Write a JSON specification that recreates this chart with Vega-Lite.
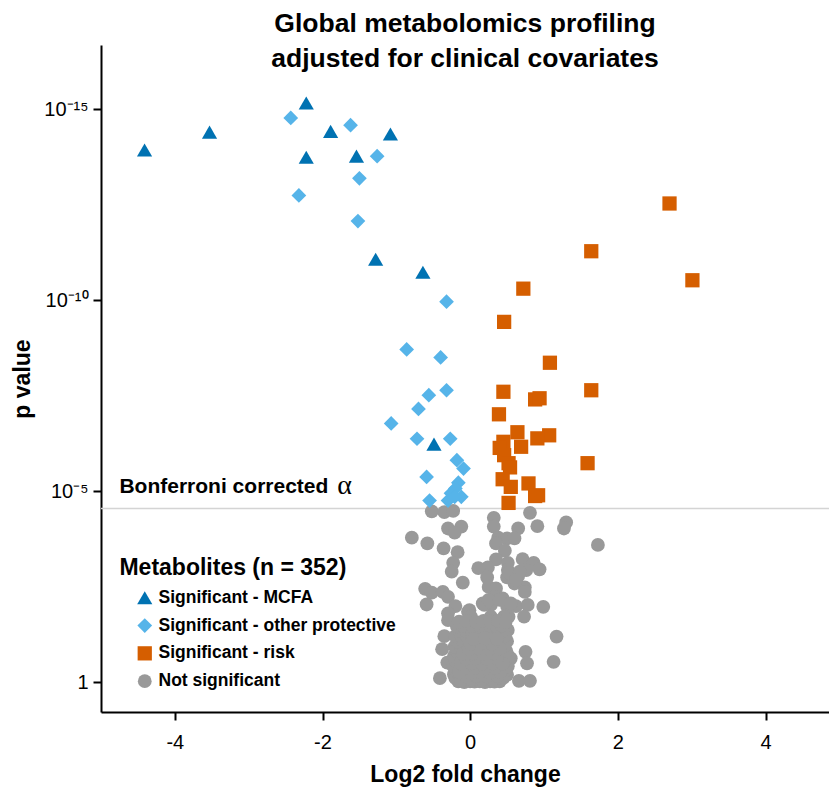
{
  "$schema": "https://vega.github.io/schema/vega-lite/v6.json",
  "width": 728,
  "height": 667,
  "autosize": {"type": "none"},
  "padding": {"left": 101, "top": 45, "right": 0, "bottom": 77},
  "background": "white",
  "config": {
    "view": {"stroke": null},
    "font": "Liberation Sans",
    "axis": {"grid": false, "domainColor": "black", "domainWidth": 2, "tickColor": "black", "tickWidth": 2, "tickSize": 8, "labelColor": "black", "labelFont": "Liberation Sans", "labelFontSize": 20, "titleFont": "Liberation Sans", "titleFontSize": 23, "titleFontWeight": "bold", "titleColor": "black"}
  },
  "title": {
    "text": ["Global metabolomics profiling", "adjusted for clinical covariates"],
    "font": "Liberation Sans",
    "fontSize": 26.5,
    "fontWeight": "bold",
    "color": "black",
    "anchor": "middle",
    "lineHeight": 35,
    "offset": -27
  },
  "datasets": {
    "pts": [
      {"x":-0.52,"y":4.47,"g":"D"},{"x":-0.35,"y":4.45,"g":"D"},{"x":-0.23,"y":4.48,"g":"D"},{"x":0.32,"y":4.3,"g":"D"},{"x":0.81,"y":4.43,"g":"D"},
      {"x":1.3,"y":4.18,"g":"D"},{"x":1.27,"y":4.02,"g":"D"},{"x":0.91,"y":4.08,"g":"D"},{"x":0.65,"y":4.02,"g":"D"},{"x":0.32,"y":4.07,"g":"D"},
      {"x":-0.79,"y":3.78,"g":"D"},{"x":-0.3,"y":4.02,"g":"D"},{"x":-0.12,"y":4.07,"g":"D"},{"x":-0.21,"y":3.91,"g":"D"},{"x":-0.58,"y":3.63,"g":"D"},
      {"x":-0.36,"y":3.5,"g":"D"},{"x":-0.17,"y":3.4,"g":"D"},{"x":0.38,"y":3.78,"g":"D"},{"x":0.5,"y":3.76,"g":"D"},{"x":0.6,"y":3.76,"g":"D"},
      {"x":0.35,"y":3.63,"g":"D"},{"x":0.47,"y":3.44,"g":"D"},{"x":1.73,"y":3.59,"g":"D"},{"x":0.71,"y":3.22,"g":"D"},{"x":0.86,"y":3.12,"g":"D"},
      {"x":0.94,"y":2.95,"g":"D"},{"x":0.35,"y":3.21,"g":"D"},{"x":0.24,"y":3.0,"g":"D"},{"x":0.11,"y":2.98,"g":"D"},{"x":0.51,"y":3.12,"g":"D"},
      {"x":0.51,"y":2.93,"g":"D"},{"x":0.76,"y":2.93,"g":"D"},{"x":0.65,"y":2.77,"g":"D"},{"x":-0.23,"y":3.12,"g":"D"},{"x":-0.25,"y":2.89,"g":"D"},
      {"x":0.23,"y":2.74,"g":"D"},{"x":0.5,"y":2.74,"g":"D"},{"x":0.6,"y":2.58,"g":"D"},{"x":-0.1,"y":2.6,"g":"D"},{"x":0.25,"y":2.49,"g":"D"},
      {"x":0.35,"y":2.45,"g":"D"},{"x":0.74,"y":2.48,"g":"D"},{"x":0.74,"y":2.36,"g":"D"},{"x":-0.61,"y":2.44,"g":"D"},{"x":-0.52,"y":2.34,"g":"D"},
      {"x":-0.37,"y":2.36,"g":"D"},{"x":-0.3,"y":2.23,"g":"D"},{"x":-0.59,"y":2.03,"g":"D"},{"x":0.33,"y":2.23,"g":"D"},{"x":0.44,"y":2.19,"g":"D"},
      {"x":0.28,"y":2.02,"g":"D"},{"x":0.19,"y":2.02,"g":"D"},{"x":0.5,"y":1.99,"g":"D"},{"x":0.62,"y":1.99,"g":"D"},{"x":0.78,"y":2.02,"g":"D"},
      {"x":0.99,"y":1.97,"g":"D"},{"x":-0.2,"y":1.99,"g":"D"},{"x":-0.01,"y":1.88,"g":"D"},{"x":-0.3,"y":1.8,"g":"D"},{"x":0.73,"y":1.71,"g":"D"},
      {"x":0.52,"y":1.71,"g":"D"},{"x":-0.35,"y":1.2,"g":"D"},{"x":-0.38,"y":0.86,"g":"D"},{"x":-0.31,"y":0.51,"g":"D"},{"x":-0.41,"y":0.1,"g":"D"},
      {"x":1.17,"y":1.19,"g":"D"},{"x":0.75,"y":0.79,"g":"D"},{"x":0.77,"y":0.49,"g":"D"},{"x":1.13,"y":0.53,"g":"D"},{"x":0.66,"y":0.03,"g":"D"},
      {"x":0.81,"y":0.03,"g":"D"},{"x":-0.03,"y":1.84,"g":"D"},{"x":0.01,"y":1.71,"g":"D"},{"x":0.28,"y":1.71,"g":"D"},{"x":0.46,"y":1.71,"g":"D"},
      {"x":0.22,"y":1.54,"g":"D"},{"x":0.42,"y":1.54,"g":"D"},{"x":0.51,"y":1.36,"g":"D"},{"x":-0.14,"y":1.32,"g":"D"},{"x":0.55,"y":0.62,"g":"D"},
      {"x":-0.3,"y":1.62,"g":"D"},{"x":0.17,"y":2.06,"g":"D"},{"x":0.25,"y":2.15,"g":"D"},{"x":0.4,"y":2.15,"g":"D"},{"x":0.55,"y":2.06,"g":"D"},
      {"x":0.53,"y":2.85,"g":"D"},{"x":0.67,"y":2.89,"g":"D"},{"x":0.62,"y":2.67,"g":"D"},
      {"x":-0.16,"y":0.02,"g":"D"},{"x":-0.08,"y":0.0,"g":"D"},{"x":0.0,"y":0.02,"g":"D"},{"x":0.06,"y":0.01,"g":"D"},{"x":0.13,"y":0.02,"g":"D"},
      {"x":0.2,"y":0.0,"g":"D"},{"x":0.27,"y":0.02,"g":"D"},{"x":0.33,"y":0.01,"g":"D"},{"x":0.4,"y":0.02,"g":"D"},
      {"x":-0.2,"y":0.1,"g":"D"},{"x":-0.12,"y":0.11,"g":"D"},{"x":-0.04,"y":0.09,"g":"D"},{"x":0.03,"y":0.12,"g":"D"},{"x":0.1,"y":0.1,"g":"D"},
      {"x":0.17,"y":0.11,"g":"D"},{"x":0.24,"y":0.09,"g":"D"},{"x":0.31,"y":0.12,"g":"D"},{"x":0.38,"y":0.1,"g":"D"},{"x":0.45,"y":0.11,"g":"D"},
      {"x":-0.22,"y":0.2,"g":"D"},{"x":-0.15,"y":0.21,"g":"D"},{"x":-0.07,"y":0.19,"g":"D"},{"x":0.01,"y":0.22,"g":"D"},{"x":0.08,"y":0.2,"g":"D"},
      {"x":0.15,"y":0.21,"g":"D"},{"x":0.22,"y":0.19,"g":"D"},{"x":0.29,"y":0.22,"g":"D"},{"x":0.36,"y":0.2,"g":"D"},{"x":0.43,"y":0.21,"g":"D"},{"x":0.5,"y":0.19,"g":"D"},
      {"x":-0.19,"y":0.3,"g":"D"},{"x":-0.11,"y":0.31,"g":"D"},{"x":-0.03,"y":0.29,"g":"D"},{"x":0.05,"y":0.32,"g":"D"},{"x":0.12,"y":0.3,"g":"D"},
      {"x":0.19,"y":0.31,"g":"D"},{"x":0.26,"y":0.29,"g":"D"},{"x":0.33,"y":0.32,"g":"D"},{"x":0.41,"y":0.3,"g":"D"},{"x":0.48,"y":0.31,"g":"D"},
      {"x":-0.23,"y":0.42,"g":"D"},{"x":-0.16,"y":0.43,"g":"D"},{"x":-0.08,"y":0.41,"g":"D"},{"x":0.0,"y":0.44,"g":"D"},{"x":0.07,"y":0.42,"g":"D"},
      {"x":0.14,"y":0.43,"g":"D"},{"x":0.21,"y":0.41,"g":"D"},{"x":0.28,"y":0.44,"g":"D"},{"x":0.35,"y":0.42,"g":"D"},{"x":0.43,"y":0.43,"g":"D"},{"x":0.51,"y":0.41,"g":"D"},
      {"x":-0.2,"y":0.55,"g":"D"},{"x":-0.12,"y":0.56,"g":"D"},{"x":-0.04,"y":0.54,"g":"D"},{"x":0.04,"y":0.57,"g":"D"},{"x":0.11,"y":0.55,"g":"D"},
      {"x":0.18,"y":0.56,"g":"D"},{"x":0.25,"y":0.54,"g":"D"},{"x":0.32,"y":0.57,"g":"D"},{"x":0.4,"y":0.55,"g":"D"},{"x":0.47,"y":0.56,"g":"D"},
      {"x":-0.22,"y":0.68,"g":"D"},{"x":-0.14,"y":0.69,"g":"D"},{"x":-0.06,"y":0.67,"g":"D"},{"x":0.02,"y":0.7,"g":"D"},{"x":0.09,"y":0.68,"g":"D"},
      {"x":0.16,"y":0.69,"g":"D"},{"x":0.23,"y":0.67,"g":"D"},{"x":0.3,"y":0.7,"g":"D"},{"x":0.37,"y":0.68,"g":"D"},{"x":0.45,"y":0.69,"g":"D"},{"x":0.52,"y":0.67,"g":"D"},
      {"x":-0.18,"y":0.8,"g":"D"},{"x":-0.1,"y":0.81,"g":"D"},{"x":-0.02,"y":0.79,"g":"D"},{"x":0.06,"y":0.82,"g":"D"},{"x":0.13,"y":0.8,"g":"D"},
      {"x":0.2,"y":0.81,"g":"D"},{"x":0.27,"y":0.79,"g":"D"},{"x":0.34,"y":0.82,"g":"D"},{"x":0.42,"y":0.8,"g":"D"},{"x":0.49,"y":0.81,"g":"D"},
      {"x":-0.21,"y":0.93,"g":"D"},{"x":-0.13,"y":0.94,"g":"D"},{"x":-0.05,"y":0.92,"g":"D"},{"x":0.03,"y":0.95,"g":"D"},{"x":0.1,"y":0.93,"g":"D"},
      {"x":0.17,"y":0.94,"g":"D"},{"x":0.24,"y":0.92,"g":"D"},{"x":0.31,"y":0.95,"g":"D"},{"x":0.38,"y":0.93,"g":"D"},{"x":0.46,"y":0.94,"g":"D"},
      {"x":-0.17,"y":1.06,"g":"D"},{"x":-0.09,"y":1.07,"g":"D"},{"x":-0.01,"y":1.05,"g":"D"},{"x":0.07,"y":1.08,"g":"D"},{"x":0.14,"y":1.06,"g":"D"},
      {"x":0.21,"y":1.07,"g":"D"},{"x":0.28,"y":1.05,"g":"D"},{"x":0.35,"y":1.08,"g":"D"},{"x":0.43,"y":1.06,"g":"D"},{"x":0.5,"y":1.07,"g":"D"},
      {"x":-0.2,"y":1.2,"g":"D"},{"x":-0.12,"y":1.21,"g":"D"},{"x":-0.04,"y":1.19,"g":"D"},{"x":0.04,"y":1.22,"g":"D"},{"x":0.11,"y":1.2,"g":"D"},
      {"x":0.18,"y":1.21,"g":"D"},{"x":0.25,"y":1.19,"g":"D"},{"x":0.33,"y":1.22,"g":"D"},{"x":0.4,"y":1.2,"g":"D"},{"x":0.47,"y":1.21,"g":"D"},
      {"x":-0.14,"y":1.33,"g":"D"},{"x":-0.06,"y":1.34,"g":"D"},{"x":0.02,"y":1.32,"g":"D"},{"x":0.09,"y":1.35,"g":"D"},{"x":0.16,"y":1.33,"g":"D"},
      {"x":0.23,"y":1.34,"g":"D"},{"x":0.3,"y":1.32,"g":"D"},{"x":0.37,"y":1.35,"g":"D"},{"x":0.44,"y":1.33,"g":"D"},
      {"x":-0.18,"y":1.46,"g":"D"},{"x":-0.1,"y":1.47,"g":"D"},{"x":0.03,"y":1.45,"g":"D"},{"x":0.12,"y":1.48,"g":"D"},{"x":0.2,"y":1.46,"g":"D"},
      {"x":0.28,"y":1.47,"g":"D"},{"x":0.36,"y":1.45,"g":"D"},{"x":0.43,"y":1.48,"g":"D"},
      {"x":-0.15,"y":1.58,"g":"D"},{"x":-0.05,"y":1.6,"g":"D"},{"x":0.08,"y":1.57,"g":"D"},{"x":0.18,"y":1.6,"g":"D"},{"x":0.27,"y":1.58,"g":"D"},
      {"x":0.38,"y":1.6,"g":"D"},{"x":0.48,"y":1.57,"g":"D"},
      {"x":-0.12,"y":0.05,"g":"D"},{"x":0.02,"y":0.06,"g":"D"},{"x":0.16,"y":0.05,"g":"D"},{"x":0.3,"y":0.06,"g":"D"},{"x":-0.05,"y":0.15,"g":"D"},
      {"x":0.09,"y":0.16,"g":"D"},{"x":0.23,"y":0.15,"g":"D"},{"x":0.37,"y":0.16,"g":"D"},{"x":-0.15,"y":0.26,"g":"D"},{"x":-0.01,"y":0.25,"g":"D"},
      {"x":0.13,"y":0.26,"g":"D"},{"x":0.27,"y":0.25,"g":"D"},{"x":0.41,"y":0.26,"g":"D"},{"x":-0.08,"y":0.36,"g":"D"},{"x":0.06,"y":0.37,"g":"D"},
      {"x":0.2,"y":0.36,"g":"D"},{"x":0.34,"y":0.37,"g":"D"},{"x":-0.12,"y":0.48,"g":"D"},{"x":0.02,"y":0.49,"g":"D"},{"x":0.16,"y":0.48,"g":"D"},
      {"x":0.3,"y":0.49,"g":"D"},{"x":0.44,"y":0.48,"g":"D"},{"x":-0.06,"y":0.61,"g":"D"},{"x":0.08,"y":0.62,"g":"D"},{"x":0.22,"y":0.61,"g":"D"},
      {"x":0.36,"y":0.62,"g":"D"},{"x":-0.1,"y":0.74,"g":"D"},{"x":0.04,"y":0.75,"g":"D"},{"x":0.18,"y":0.74,"g":"D"},{"x":0.32,"y":0.75,"g":"D"},
      {"x":-0.02,"y":0.87,"g":"D"},{"x":0.12,"y":0.88,"g":"D"},{"x":0.26,"y":0.87,"g":"D"},{"x":0.4,"y":0.88,"g":"D"},{"x":0.0,"y":1.0,"g":"D"},
      {"x":0.15,"y":1.01,"g":"D"},{"x":0.3,"y":1.0,"g":"D"},{"x":0.05,"y":1.13,"g":"D"},{"x":0.2,"y":1.14,"g":"D"},{"x":0.36,"y":1.13,"g":"D"},

      {"x":-2.43,"y":14.77,"g":"B"},{"x":-1.62,"y":14.58,"g":"B"},{"x":-1.26,"y":13.77,"g":"B"},{"x":-1.5,"y":13.19,"g":"B"},{"x":-2.32,"y":12.74,"g":"B"},
      {"x":-1.52,"y":12.07,"g":"B"},{"x":-0.32,"y":9.96,"g":"B"},{"x":-0.86,"y":8.71,"g":"B"},{"x":-0.4,"y":8.5,"g":"B"},{"x":-0.32,"y":7.64,"g":"B"},
      {"x":-0.56,"y":7.51,"g":"B"},{"x":-0.7,"y":7.15,"g":"B"},{"x":-1.07,"y":6.77,"g":"B"},{"x":-0.72,"y":6.37,"g":"B"},{"x":-0.27,"y":6.37,"g":"B"},
      {"x":-0.18,"y":5.81,"g":"B"},{"x":-0.09,"y":5.59,"g":"B"},{"x":-0.59,"y":5.37,"g":"B"},{"x":-0.16,"y":5.22,"g":"B"},{"x":-0.2,"y":5.07,"g":"B"},
      {"x":-0.26,"y":4.94,"g":"B"},{"x":-0.12,"y":4.85,"g":"B"},{"x":-0.55,"y":4.75,"g":"B"},{"x":-0.3,"y":4.75,"g":"B"},{"x":-0.21,"y":4.85,"g":"B"},

      {"x":2.7,"y":12.53,"g":"C"},{"x":1.64,"y":11.28,"g":"C"},{"x":3.01,"y":10.52,"g":"C"},{"x":0.72,"y":10.3,"g":"C"},{"x":0.46,"y":9.43,"g":"C"},
      {"x":1.08,"y":8.36,"g":"C"},{"x":0.45,"y":7.6,"g":"C"},{"x":1.64,"y":7.64,"g":"C"},{"x":0.88,"y":7.4,"g":"C"},{"x":0.94,"y":7.43,"g":"C"},
      {"x":0.39,"y":7.01,"g":"C"},{"x":0.64,"y":6.54,"g":"C"},{"x":1.07,"y":6.46,"g":"C"},{"x":0.91,"y":6.38,"g":"C"},{"x":0.45,"y":6.29,"g":"C"},
      {"x":0.4,"y":6.13,"g":"C"},{"x":0.69,"y":6.16,"g":"C"},{"x":0.46,"y":5.94,"g":"C"},{"x":0.52,"y":5.73,"g":"C"},{"x":0.54,"y":5.62,"g":"C"},
      {"x":1.59,"y":5.73,"g":"C"},{"x":0.44,"y":5.31,"g":"C"},{"x":0.55,"y":5.11,"g":"C"},{"x":0.79,"y":5.2,"g":"C"},{"x":0.88,"y":4.87,"g":"C"},
      {"x":0.92,"y":4.89,"g":"C"},{"x":0.52,"y":4.69,"g":"C"},

      {"x":-4.41,"y":13.93,"g":"A"},{"x":-3.53,"y":14.4,"g":"A"},{"x":-2.22,"y":15.16,"g":"A"},{"x":-1.89,"y":14.42,"g":"A"},{"x":-1.08,"y":14.35,"g":"A"},
      {"x":-2.22,"y":13.74,"g":"A"},{"x":-1.54,"y":13.77,"g":"A"},{"x":-1.28,"y":11.07,"g":"A"},{"x":-0.64,"y":10.73,"g":"A"},{"x":-0.49,"y":6.23,"g":"A"}
    ]
  },
  "layer": [
    {
      "data": {"values": [{}]},
      "mark": {"type": "rule", "color": "#d4d4d4", "strokeWidth": 1.5},
      "encoding": {"y": {"datum": 4.546, "type": "quantitative"}}
    },
    {
      "data": {"name": "pts"},
      "mark": {"type": "point", "filled": true, "opacity": 1},
      "encoding": {
        "x": {"field": "x", "type": "quantitative", "scale": {"domain": [-5, 4.86], "nice": false, "zero": false},
              "axis": {"title": "Log2 fold change", "values": [-4, -2, 0, 2, 4], "labelPadding": 12, "titlePadding": 11, "labelFlush": false,
                       "labelExpr": "'' + datum.value"}},
        "y": {"field": "y", "type": "quantitative", "scale": {"domain": [-0.785, 16.68], "nice": false, "zero": false},
              "axis": {"title": "p value", "values": [0, 5, 10, 15], "labelPadding": 5, "titlePadding": 9,
                       "labelExpr": "datum.value == 0 ? '1' : datum.value == 5 ? '10⁻⁵' : datum.value == 10 ? '10⁻¹⁰' : '10⁻¹⁵'"}},
        "color": {"field": "g", "type": "nominal",
                  "scale": {"domain": ["A", "B", "C", "D"], "range": ["#0072B2", "#56B4E9", "#D55E00", "#999999"]},
                  "legend": {"title": null, "orient": "none", "legendX": 35, "legendY": 544, "padding": 0,
                             "labelFont": "Liberation Sans", "labelFontSize": 17.5, "labelFontWeight": "bold", "labelColor": "black", "labelLimit": 0,
                             "symbolSize": 120, "symbolStrokeWidth": 0, "rowPadding": 8.8, "labelOffset": 5,
                             "labelExpr": "datum.label == 'A' ? 'Significant - MCFA' : datum.label == 'B' ? 'Significant - other protective' : datum.label == 'C' ? 'Significant - risk' : 'Not significant'"}},
        "shape": {"field": "g", "type": "nominal",
                  "scale": {"domain": ["A", "B", "C", "D"], "range": ["triangle-up", "diamond", "square", "circle"]}},
        "size": {"field": "g", "type": "nominal",
                 "scale": {"domain": ["A", "B", "C", "D"], "range": [230, 190, 130, 125]}, "legend": null}
      }
    },
    {
      "data": {"values": [{}]},
      "mark": {"type": "text", "text": "Bonferroni corrected", "font": "Liberation Sans", "fontSize": 21, "fontWeight": "bold", "align": "left", "baseline": "middle", "color": "black"},
      "encoding": {"x": {"datum": -4.75, "type": "quantitative"}, "y": {"datum": 5.1, "type": "quantitative"}}
    },
    {
      "data": {"values": [{}]},
      "mark": {"type": "text", "text": "α", "font": "Liberation Serif", "fontSize": 28, "align": "left", "baseline": "middle", "color": "black"},
      "encoding": {"x": {"datum": -1.8, "type": "quantitative"}, "y": {"datum": 5.12, "type": "quantitative"}}
    },
    {
      "data": {"values": [{}]},
      "mark": {"type": "text", "text": "Metabolites (n = 352)", "font": "Liberation Sans", "fontSize": 23, "fontWeight": "bold", "align": "left", "baseline": "middle", "color": "black"},
      "encoding": {"x": {"datum": -4.75, "type": "quantitative"}, "y": {"datum": 2.98, "type": "quantitative"}}
    }
  ]
}
